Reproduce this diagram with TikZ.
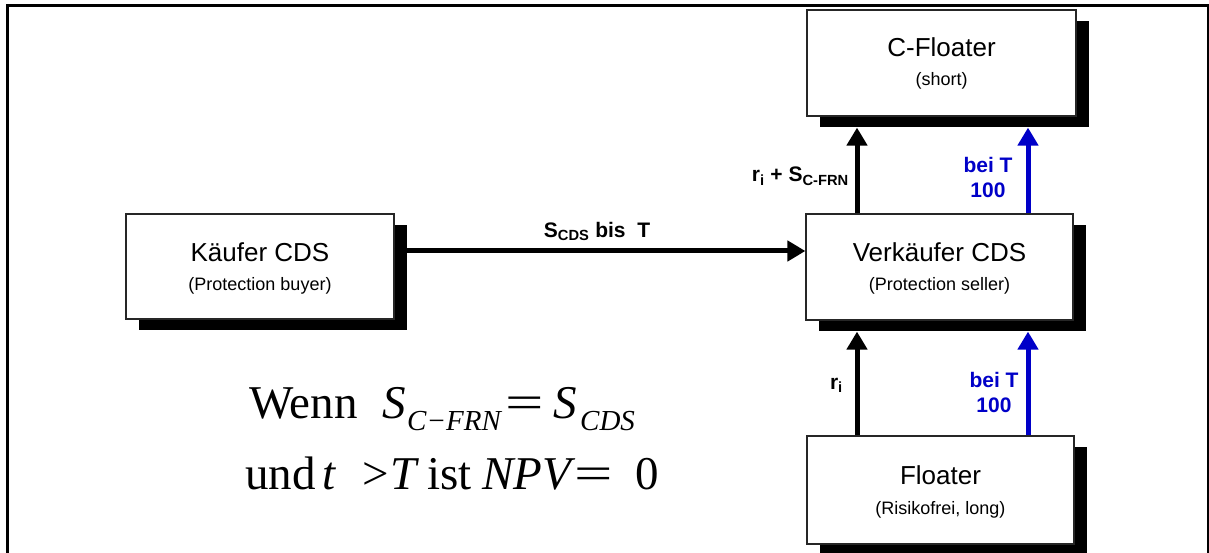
\documentclass[tikz,border=0pt]{standalone}
\usepackage{fontspec}
\setmainfont{Liberation Sans}
\newfontfamily\tms{Liberation Serif}
\usetikzlibrary{shadows,arrows.meta,calc}
\definecolor{arrblue}{RGB}{0,0,200}
\begin{document}
\begin{tikzpicture}[x=1pt,y=-1pt,
  party/.style={draw=black!85, line width=1.2pt, fill=white, rectangle, inner sep=0,
    drop shadow={shadow xshift=13pt, shadow yshift=-11pt, fill=black, opacity=1},
    align=center},
  flow/.style={line width=5pt, -{Triangle[length=18pt,width=20pt]}},
  bflow/.style={flow, draw=arrblue, color=arrblue},
  lbl/.style={font=\bfseries\fontsize{21}{25}\selectfont, inner sep=0},
  blbl/.style={lbl, text=arrblue, align=center},
  ttl/.style={font=\fontsize{26}{30}\selectfont},
  sub/.style={font=\fontsize{18}{22}\selectfont},
  fml/.style={font=\tms\fontsize{47}{50}\selectfont, inner sep=0, anchor=base west},
  fsub/.style={font=\tms\itshape\fontsize{29}{32}\selectfont, inner sep=0, anchor=base west}]
\useasboundingbox (0,0) rectangle (1209,553);
% frame
\draw[line width=3.2pt] (7.5,553) -- (7.5,5.5) -- (1209,5.5);
\draw[line width=1.4pt] (1208,5.5) -- (1208,553);

% boxes
\node[party, minimum width=268pt, minimum height=105pt] (kauf) at (260,266.5) {};
\node[party, minimum width=269pt, minimum height=106pt] (cfl) at (941.5,63) {};
\node[party, minimum width=267pt, minimum height=106pt] (verk) at (939.5,267) {};
\node[party, minimum width=267pt, minimum height=108pt] (flo) at (940.5,490) {};

% box texts
\node[ttl] (kaufT) at (260,252) {Käufer CDS};
\node[sub] (kaufS) at (260,286) {(Protection buyer)};
\node[ttl] (cflT) at (941.5,47) {C-Floater};
\node[sub] (cflS) at (941.5,81) {(short)};
\node[ttl] (verkT) at (939.5,252) {Verkäufer CDS};
\node[sub] (verkS) at (939.5,286) {(Protection seller)};
\node[ttl] (floT) at (940.5,475) {Floater};
\node[sub] (floS) at (940.5,510) {(Risikofrei, long)};

% arrows
\coordinate (xa) at (857,0);
\coordinate (xb) at (1028,0);
\coordinate (yh) at (0,251);
\draw[flow] (kauf.east |- yh) -- (verk.west |- yh);
\draw[flow] (verk.north -| xa) -- ($(cfl.south -| xa)+(0,11)$);
\draw[bflow] (verk.north -| xb) -- ($(cfl.south -| xb)+(0,11)$);
\draw[flow] (flo.north -| xa) -- ($(verk.south -| xa)+(0,11)$);
\draw[bflow] (flo.north -| xb) -- ($(verk.south -| xb)+(0,11)$);

% labels
\node[lbl, anchor=base] (l1) at (597,237) {S\textsubscript{CDS} bis\ \ T};
\node[lbl, anchor=base east] (l2) at (849,182) {r\textsubscript{i} + S\textsubscript{C-FRN}};
\node[blbl] (l3) at (988,177) {bei T\\100};
\node[lbl, anchor=base east] (l4) at (843,389) {r\textsubscript{i}};
\node[blbl] (l5) at (994,392) {bei T\\100};

% formula
\node[fml] (w1) at (249,418) {Wenn};
\node[fml] (w2) at (382,418) {\itshape S};
\node[fsub] (w3) at (407,430) {C−FRN};
\node[fml] (w4) at (505,418) {\scalebox{1.45}[1]{=}};
\node[fml] (w5) at (553,418) {\itshape S};
\node[fsub] (w6) at (580,430) {CDS};
\node[fml] (u1) at (245,489) {und};
\node[fml] (u2) at (322,489) {\itshape t};
\node[fml] (u3) at (362,489) {>};
\node[fml] (u4) at (390,489) {\itshape T};
\node[fml] (u5) at (427,489) {ist};
\node[fml] (u6) at (482,489) {\itshape NPV};
\node[fml] (u7) at (574,489) {\scalebox{1.45}[1]{=}};
\node[fml] (u8) at (635,489) {0};
\end{tikzpicture}
\end{document}
